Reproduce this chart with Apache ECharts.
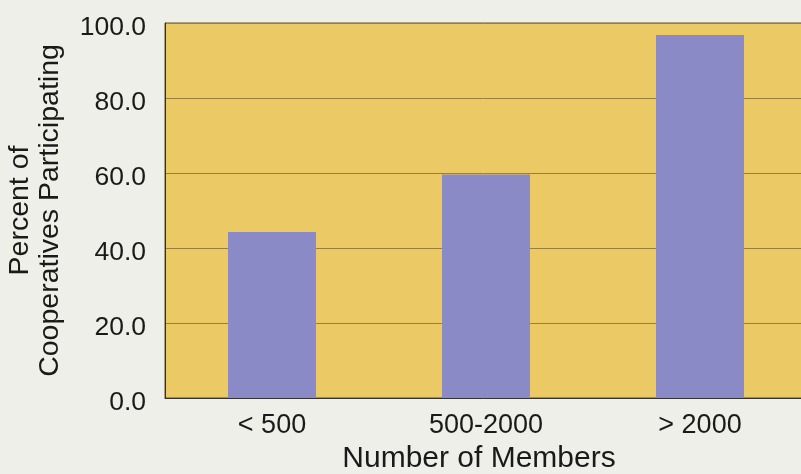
<!DOCTYPE html>
<html>
<head>
<meta charset="utf-8">
<script src="https://cdn.jsdelivr.net/npm/echarts@6/dist/echarts.min.js"></script>
<style>
html,body{margin:0;padding:0;background:#efefea;}
#c{width:801px;height:474px;}
</style>
</head>
<body>
<div id="c"></div>
<script>
const categories = ['< 500', '500-2000', '> 2000'];
const percentParticipating = [44.3, 59.6, 96.8];
const yTicks = [0, 20, 40, 60, 80, 100];

const chart = echarts.init(document.getElementById('c'), null, {renderer: 'canvas'});
chart.setOption({
  backgroundColor: '#efefea',
  animation: false,
  textStyle: {fontFamily: 'Liberation Sans, Arial, sans-serif'},
  grid: {
    left: 165, right: -6, top: 23, bottom: 76,
    containLabel: false, outerBoundsMode: 'none',
    show: true, backgroundColor: '#ebc964', borderColor: '#5e5026', borderWidth: 1
  },
  xAxis: {
    type: 'category',
    data: categories,
    name: 'Number of Members',
    nameLocation: 'middle',
    nameGap: 44,
    nameTextStyle: {fontSize: 30, color: '#1a1a1a', padding: [0, 14, 0, 0]},
    axisLine: {show: true, lineStyle: {color: '#333', width: 1}},
    axisTick: {show: false},
    axisLabel: {fontSize: 27, color: '#1a1a1a', margin: 14}
  },
  yAxis: {
    type: 'value',
    min: yTicks[0], max: yTicks[yTicks.length - 1], interval: 20,
    name: 'Percent of\nCooperatives Participating',
    nameLocation: 'middle',
    nameGap: 100,
    nameTextStyle: {fontSize: 28.5, color: '#1a1a1a', lineHeight: 30},
    axisLine: {show: true, lineStyle: {color: '#333', width: 1}},
    axisTick: {show: false},
    axisLabel: {fontSize: 26.5, color: '#1a1a1a', margin: 19, verticalAlign: 'top', lineHeight: 10, formatter: v => v.toFixed(1)},
    splitLine: {show: true, lineStyle: {color: '#98803c', width: 1}}
  },
  series: [{
    type: 'bar',
    data: percentParticipating,
    barWidth: 88,
    itemStyle: {color: '#8a8ac6'}
  }]
});
</script>
</body>
</html>
